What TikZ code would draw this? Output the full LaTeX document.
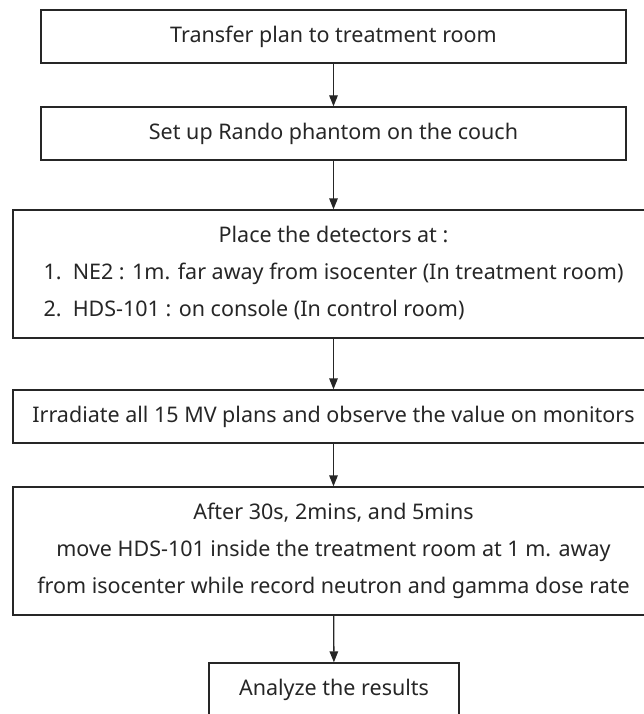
\documentclass[tikz,border=0pt]{standalone}
\usepackage{fontspec}
\setmainfont{Noto Sans}
\usetikzlibrary{arrows.meta}
\tikzstyle{stepbox} = [draw=black!85, line width=1.3pt, inner sep=0pt, minimum height=53pt, align=center, text=black!85, font={\fontsize{21.5}{37}\selectfont}]
\tikzstyle{narrow} = [minimum width=585pt]
\tikzstyle{wide} = [minimum width=641pt]
\tikzstyle{tall} = [minimum height=128pt]
\tikzstyle{flow} = [draw=black!85, line width=1.3pt, -{Triangle[length=11pt,width=8.5pt]}]

\begin{document}
\begin{tikzpicture}[x=1pt,y=-1pt]
    \useasboundingbox (0,0) rectangle (643,714);
    \node[stepbox,narrow](transfer) at (333.5,36.5){Transfer plan to treatment room};
    \node[stepbox,narrow](setup) at (333.5,133.5){Set up Rando phantom on the couch};
    \node[stepbox,wide,tall](place) at (333.5,274){Place the detectors at :\\
      1.\ \ NE2 : 1m. far away from isocenter (In treatment room)\\
      \rlap{2.\ \ HDS-101 : on console (In control room)}\phantom{1.\ \ NE2 : 1m. far away from isocenter (In treatment room)}};
    \node[stepbox,wide](irradiate) at (333.5,416.5){Irradiate all 15 MV plans and observe the value on monitors};
    \node[stepbox,wide,tall](move) at (333.5,551){After 30s, 2mins, and 5mins\\
      move HDS-101 inside the treatment room at 1 m. away\\
      from isocenter while record neutron and gamma dose rate};
    \node[stepbox,minimum width=250pt](analyze) at (334,689.5){Analyze the results};
    \draw[flow](transfer)--(setup);
    \draw[flow](setup)--(place);
    \draw[flow](place)--(irradiate);
    \draw[flow](irradiate)--(move);
    \draw[flow](move)--(analyze);
\end{tikzpicture}
\end{document}
